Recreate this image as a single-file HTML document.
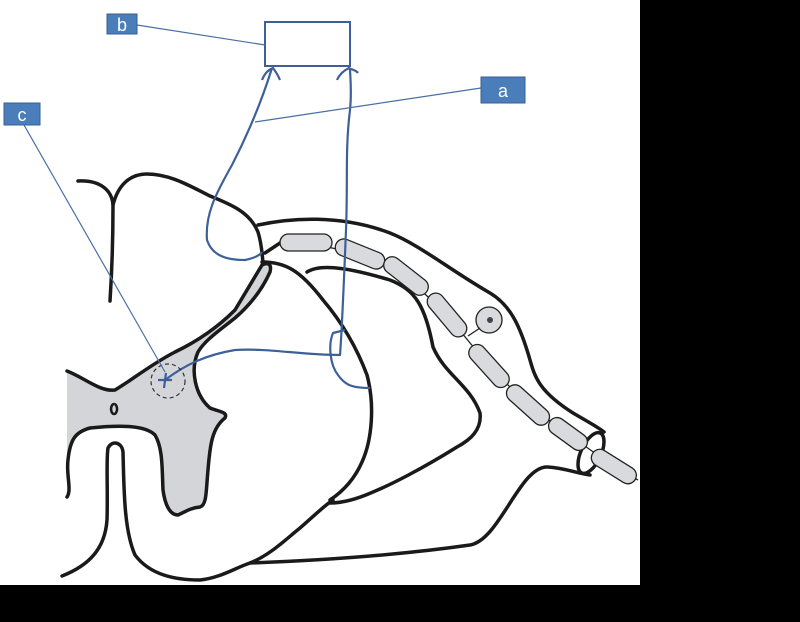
<!DOCTYPE html>
<html><head><meta charset="utf-8"><style>
html,body{margin:0;padding:0;background:#000;}
svg{display:block;}
</style></head><body>
<svg width="800" height="622" viewBox="0 0 800 622" xmlns="http://www.w3.org/2000/svg">
<rect x="0" y="0" width="800" height="622" fill="#000"/>
<rect x="0" y="0" width="640" height="585" fill="#fff"/>
<!-- grey horn -->
<path d="M67,371 C85,378 100,392 115,390 C135,378 150,365 175,352 C200,340 220,325 235,310 L265,262 L272,268 C262,290 250,305 235,318 C220,330 205,340 198,352 C190,370 195,395 210,408 C220,412 228,412 225,418 C212,428 210,445 208,470 C206,490 207,505 200,507 C190,508 185,512 178,515 C170,515 165,505 163,490 C162,470 163,448 155,435 C145,425 120,425 90,428 C75,432 70,440 67,455 Z" fill="#d4d5d9"/>
<g fill="none" stroke="#1a1a1a" stroke-width="3.5" stroke-linecap="round" stroke-linejoin="round">
<path d="M78,181 C100,180 112,190 113,205 C113,240 112,270 110,301"/>
<path d="M113,205 C118,185 130,174 147,174 C170,174 190,186 210,196 C230,204 250,212 258,232 C262,245 262,255 263,262"/>
<path d="M67,371 C85,378 100,392 115,390 C135,378 150,365 175,352 C200,340 220,325 235,310 L262,265 C268,262 272,264 270,272 C262,290 250,305 235,318 C220,330 205,340 198,352 C190,370 195,395 210,408 C220,412 228,412 225,418 C212,428 210,445 208,470 C206,490 207,505 200,507 C190,508 185,512 178,515 C170,515 165,505 163,490 C162,470 163,448 155,435 C145,425 120,425 90,428 C75,432 70,440 68,460 C66,475 72,490 67,497"/>
<path d="M62,576 C90,565 105,548 107,520 C108,490 106,460 108,448 C112,440 122,442 123,452 C124,490 124,530 135,555 C150,575 175,580 200,580 C220,578 235,568 250,563 C270,555 285,540 300,528 C315,515 325,505 333,500"/>
<path d="M250,563 C330,560 400,555 470,545 C500,540 520,465 548,467 C565,468 575,473 590,475"/>
<path d="M258,225 C290,218 340,214 390,233 C420,245 450,270 490,293 C510,305 520,325 530,360 C535,378 540,392 573,413 C590,423 598,427 604,432"/>
<path d="M307,272 C318,265 340,265 390,280 C415,290 425,305 433,347 C445,375 470,385 480,413 C482,430 470,440 457,447 C420,470 390,485 373,492 C355,500 340,503 330,503"/>
<path d="M262,262 C285,262 300,270 323,300 C340,320 355,343 367,375 C375,405 372,440 362,462 C355,478 345,490 330,500"/>
<path d="M265,253 L280,243"/>
<ellipse cx="591" cy="453" rx="10" ry="22" transform="rotate(25 591 453)"/>
</g>
<polyline points="280,243 304,242 360,254 406,276 447,315 489,366 528,405 568,434 613,466 638,480" fill="none" stroke="#222" stroke-width="1.3"/>
<g fill="#d9dadd" stroke="#222" stroke-width="1.3">
<rect x="280" y="234" width="52" height="17" rx="8.5"/>
<rect x="334" y="245.5" width="52" height="17" rx="8.5" transform="rotate(22 360 254)"/>
<rect x="380" y="267.5" width="52" height="17" rx="8.5" transform="rotate(38 406 276)"/>
<rect x="421" y="306.5" width="52" height="17" rx="8.5" transform="rotate(50 447 315)"/>
<rect x="463" y="357.5" width="52" height="17" rx="8.5" transform="rotate(48 489 366)"/>
<rect x="502" y="396.5" width="52" height="17" rx="8.5" transform="rotate(42 528 405)"/>
<rect x="546" y="425.5" width="44" height="17" rx="8.5" transform="rotate(36 568 434)"/>
<rect x="589" y="457.5" width="50" height="17" rx="8.5" transform="rotate(32 613 466)"/>
<circle cx="489" cy="320" r="13"/>
</g>
<circle cx="490" cy="320" r="3" fill="#444"/>
<line x1="468" y1="336" x2="480" y2="328" stroke="#222" stroke-width="1.3"/>
<path d="M114,404 a3,5 0 1,0 0.1,0" fill="none" stroke="#1a1a1a" stroke-width="2.5"/>
<!-- blue -->
<g fill="none" stroke="#3d6098" stroke-width="2.2" stroke-linejoin="round">
<path d="M165,380 C185,365 205,355 235,350 C270,348 300,355 340,355 C342,330 344,280 346,230 C348,180 345,150 350,110 C352,90 350,75 350,68"/>
<path d="M272,68 C262,100 250,130 232,165 C215,195 205,215 207,240 C212,255 225,260 245,260 C255,258 260,255 262,252"/>
<path d="M345,330 L333,333 C328,345 330,365 338,375 C345,385 352,388 370,388"/>
<path d="M262,80 C265,73 268,70 273,68 C276,72 278,75 280,80"/>
<path d="M337,80 C340,73 345,70 349,68 C352,70 356,70 358,73"/>
<path d="M158,380 L172,380 M166,373 L164,388"/>
</g>
<rect x="265" y="22" width="85" height="44" fill="none" stroke="#3d6098" stroke-width="2"/>
<circle cx="168" cy="381" r="17" fill="none" stroke="#333" stroke-width="1.2" stroke-dasharray="4,3"/>
<g stroke="#4a6fa5" stroke-width="1.2">
<line x1="137" y1="25" x2="265" y2="45"/>
<line x1="481" y1="88" x2="255" y2="122"/>
<line x1="24" y1="125" x2="165" y2="372"/>
</g>
<g fill="#4a7ebb" stroke="#3a5f8f" stroke-width="1">
<rect x="107" y="14" width="30" height="20"/>
<rect x="481" y="77" width="44" height="26"/>
<rect x="4" y="103" width="36" height="22"/>
</g>
<g fill="#fff" font-family="Liberation Sans, sans-serif" font-size="18" text-anchor="middle">
<text x="122" y="31">b</text>
<text x="503" y="97">a</text>
<text x="22" y="121">c</text>
</g>
</svg>
</body></html>
